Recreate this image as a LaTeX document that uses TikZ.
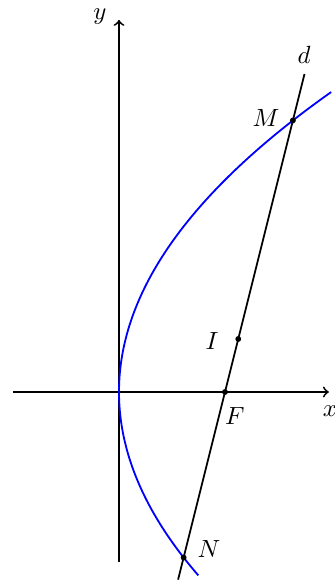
\documentclass[tikz,border=0pt]{standalone}
\begin{document}
\begin{tikzpicture}[x=46.7pt,y=46.7pt,line width=0.8pt,
  dot/.style={fill=black},
  lbl/.style={inner sep=0pt,font=\fontsize{11}{13}\selectfont}]
\useasboundingbox (-1.1226,-1.7736) rectangle (2.0283,3.6981);
% axes
\coordinate (xs) at (-1,0);
\coordinate (xe) at (1.98,0);
\coordinate (ys) at (0,-1.6);
\coordinate (ye) at (0,3.51);
\draw[->] (xs) -- (xe);
\draw[->] (ys) -- (ye);
\node[lbl] (xl) at (1.99,-0.18) {$x$};
\node[lbl] (yl) at (-0.179,3.54) {$y$};
% parabola y^2 = 4x
\draw[blue,domain=-1.73:2.83,samples=120,smooth] plot ({\x*\x/4},\x);
% line d
\coordinate (d1) at (0.5575,-1.77);
\coordinate (d2) at (1.75,3.0);
\draw (d1) -- (d2);
\node[lbl] (dl) at (1.745,3.18) {$d$};
% points
\coordinate (F) at (1,0);
\coordinate (I) at (1.125,0.5);
\coordinate (M) at (1.6404,2.5616);
\coordinate (N) at (0.6096,-1.5616);
\foreach \p in {F,I,M,N} \fill[dot] (\p) circle (1.3pt);
\node[lbl] (Ml) at (1.387,2.585) {$M$};
\node[lbl] (Nl) at (0.849,-1.481) {$N$};
\node[lbl] (Il) at (0.877,0.481) {$I$};
\node[lbl] (Fl) at (1.094,-0.226) {$F$};
\end{tikzpicture}
\end{document}
